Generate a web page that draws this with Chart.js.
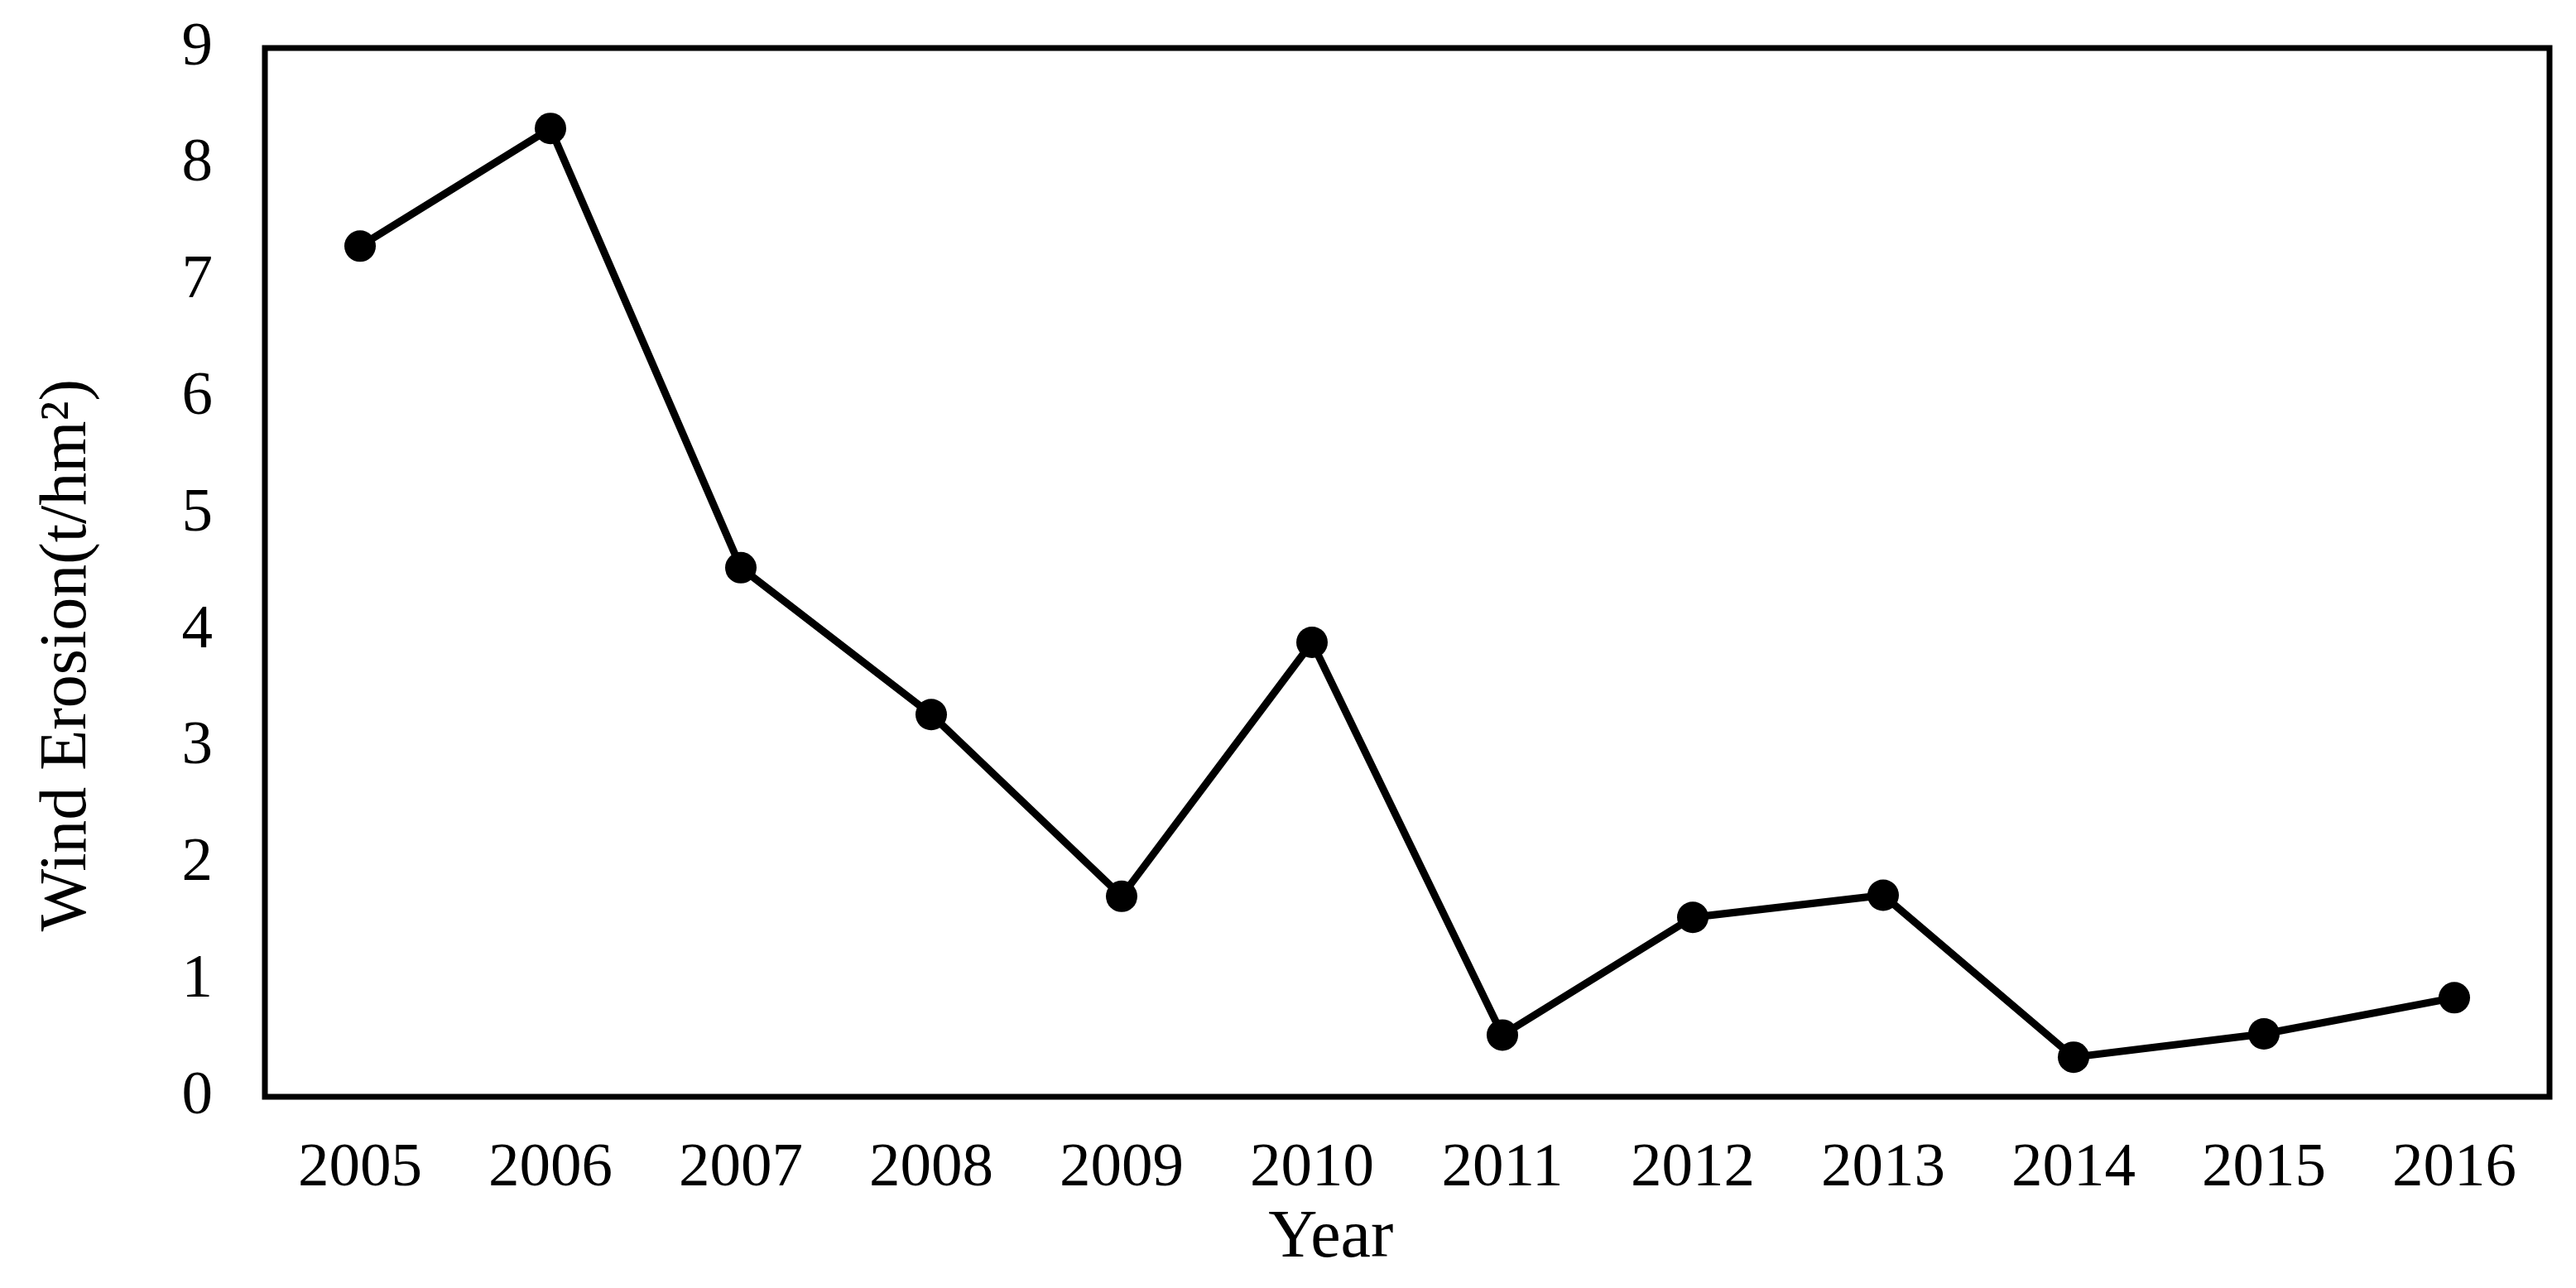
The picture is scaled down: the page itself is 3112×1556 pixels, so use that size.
<!DOCTYPE html>
<html>
<head>
<meta charset="utf-8">
<script src="https://cdn.jsdelivr.net/npm/chart.js@4.4.1/dist/chart.umd.min.js"></script>
<style>
    html, body { margin: 0; padding: 0; background: #fff; }
    #wrap { width: 3112px; height: 1556px; position: relative; }
</style>
</head>
<body>
<div id="wrap"><canvas id="erosionChart"></canvas></div>
<script>
// values
const years = ['2005', '2006', '2007', '2008', '2009', '2010', '2011', '2012', '2013', '2014', '2015', '2016'];
const erosion = [7.30, 8.31, 4.54, 3.28, 1.72, 3.90, 0.53, 1.54, 1.73, 0.34, 0.54, 0.85];
const yTicks = [0, 1, 2, 3, 4, 5, 6, 7, 8, 9];

const serif = '"Liberation Serif", "Times New Roman", serif';

// box around the plot area
const framePlugin = {
    id: 'frame',
    afterDraw: (chart) => {
        const { ctx, chartArea: a } = chart;
        ctx.save();
        ctx.strokeStyle = '#000';
        ctx.lineWidth = 7;
        ctx.strokeRect(a.left, a.top, a.right - a.left, a.bottom - a.top);
        ctx.restore();
    }
};

const ctx = document.getElementById('erosionChart');

new Chart(ctx, {
    type: 'line',
    data: {
        labels: years,
        datasets: [{
            data: erosion,
            borderColor: '#000',
            borderWidth: 9,
            pointRadius: 19,
            pointHoverRadius: 19,
            pointBackgroundColor: '#000',
            pointBorderWidth: 0,
            tension: 0,
            fill: false
        }]
    },
    options: {
        responsive: true,
        maintainAspectRatio: false,
        animation: false,
        layout: {
            padding: { top: 58, right: 32, bottom: 0, left: 0 }
        },
        plugins: {
            legend: { display: false },
            tooltip: { enabled: false }
        },
        scales: {
            x: {
                type: 'category',
                offset: true,
                // invisible tick marks give the label gap (tick padding would also pad the chart edges)
                grid: { display: false, drawTicks: true, tickLength: 40 },
                border: { display: false },
                ticks: {
                    color: '#000',
                    padding: 2,
                    font: { family: serif, size: 75 }
                },
                title: {
                    display: true,
                    text: 'Year' + ' '.repeat(9),
                    color: '#000',
                    padding: { top: 0, bottom: 10 },
                    font: { family: serif, size: 82 }
                },
                afterFit: (scale) => { scale.height = 231; }
            },
            y: {
                min: 0,
                max: 9,
                afterBuildTicks: (scale) => {
                    scale.ticks = yTicks.map(v => ({ value: v }));
                },
                grid: { display: false, drawTicks: true, tickLength: 60 },
                border: { display: false },
                ticks: {
                    color: '#000',
                    padding: 3,
                    font: { family: serif, size: 75 }
                },
                title: {
                    display: true,
                    text: 'Wind Erosion(t/hm²)' + ' '.repeat(10),
                    color: '#000',
                    padding: { top: 34, bottom: 0 },
                    font: { family: serif, size: 80 }
                },
                afterFit: (scale) => { scale.width = 320; }
            }
        }
    },
    plugins: [framePlugin]
});
</script>
</body>
</html>
